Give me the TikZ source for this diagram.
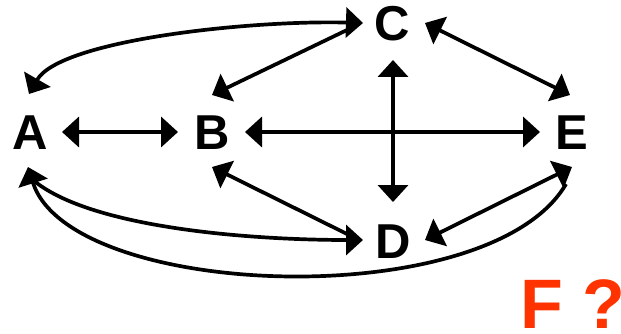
\documentclass[tikz,border=0pt]{standalone}
\usepackage{fontspec}
\setmainfont{Liberation Sans}
\usetikzlibrary{arrows.meta}
\definecolor{fred}{RGB}{255,51,0}
\tikzset{
  lbl/.style={font=\fontsize{49}{49}\selectfont\bfseries, inner sep=0pt},
  conn/.style={line width=3.7pt, black},
  hd/.tip={Triangle[length=17pt,width=30pt]}
}
\begin{document}
\begin{tikzpicture}[x=1pt,y=-1pt]
\useasboundingbox (0,0) rectangle (621,334);
\clip (0,0) rectangle (621,334);
% nodes
\node[lbl] (A) at (30,132.5) {A};
\node[lbl] (B) at (212,132.5) {B};
\node[lbl] (C) at (392,23.5) {C};
\node[lbl] (D) at (393,241.5) {D};
\node[lbl] (E) at (572,132.5) {E};
\node[font=\fontsize{70}{70}\selectfont\bfseries, text=fred, inner sep=0pt, anchor=base west] (F) at (520,328) {F ?};
% attachment points
\coordinate (Ab) at (62,132);   \coordinate (Ba) at (178,132);
\coordinate (Be) at (245,132);  \coordinate (Eb) at (540,132);
\coordinate (Cd) at (393,60);   \coordinate (Dc) at (393,202);
\coordinate (Bc) at (212,95);   \coordinate (Cb) at (347,30);
\coordinate (Bd) at (212,167);  \coordinate (Db) at (347,234);
\coordinate (Ce) at (425,23);   \coordinate (Ec) at (570,95);
\coordinate (De) at (425,240);  \coordinate (Ed) at (572,167);
\coordinate (At) at (29,94);    \coordinate (Ca) at (363,23);
\coordinate (Ad) at (33,180);   \coordinate (Da) at (363,240);
\coordinate (Ae) at (28,167);   \coordinate (Ea) at (566,184);
% connectors
\draw[conn, hd-hd] (Ab) -- (Ba);
\draw[conn, hd-hd] (Be) -- (Eb);
\draw[conn, hd-hd] (Cd) -- (Dc);
\draw[conn, hd-] (Bc) -- (Cb);
\draw[conn, hd-] (Bd) -- (Db);
\draw[conn, hd-hd] (Ce) -- (Ec);
\draw[conn, hd-hd] (De) -- (Ed);
\draw[conn, hd-hd] (At) .. controls (60,40) and (250,20) .. (Ca);
\draw[conn, -hd] (Ad) .. controls (90,228) and (250,240) .. (Da);
\draw[conn, hd-] (Ae) .. controls (70,300) and (490,315) .. (Ea);
\end{tikzpicture}
\end{document}
